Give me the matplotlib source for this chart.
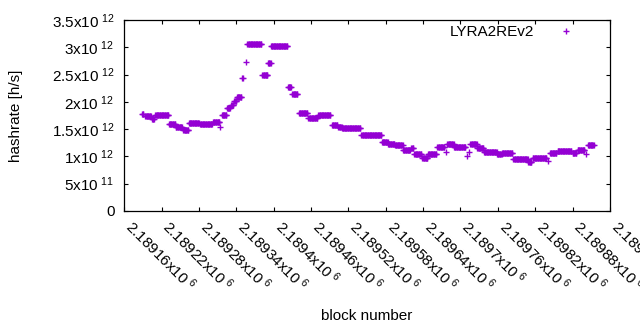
import numpy as np
import matplotlib
matplotlib.use('Agg')
import matplotlib.pyplot as plt
from matplotlib import rcParams

rcParams['font.family'] = ['Liberation Sans', 'DejaVu Sans']
rcParams['font.size'] = 11
rcParams['mathtext.fontset'] = 'custom'
rcParams['mathtext.rm'] = 'Liberation Sans'
rcParams['mathtext.default'] = 'regular'

# hashrate is flat between retargets: first block, last block, rate [1e12 h/s]
seg_first = [2189189, 2189194, 2189205, 2189210, 2189232, 2189243, 2189255, 2189264,
             2189282, 2189303, 2189314, 2189317, 2189325, 2189332, 2189337, 2189341,
             2189350, 2189356, 2189358, 2189382, 2189391, 2189396, 2189423, 2189430,
             2189441, 2189456, 2189472, 2189494, 2189504, 2189510, 2189541, 2189574,
             2189584, 2189595, 2189608, 2189621, 2189626, 2189639, 2189648, 2189663,
             2189677, 2189679, 2189690, 2189711, 2189714, 2189716, 2189727, 2189738,
             2189759, 2189767, 2189785, 2189809, 2189816, 2189840, 2189844, 2189856,
             2189880, 2189888, 2189901, 2189905]
seg_last = [2189191, 2189203, 2189208, 2189231, 2189242, 2189253, 2189263, 2189280,
            2189301, 2189313, 2189314, 2189324, 2189330, 2189335, 2189340, 2189348,
            2189351, 2189356, 2189380, 2189390, 2189395, 2189422, 2189428, 2189438,
            2189454, 2189470, 2189491, 2189502, 2189509, 2189539, 2189573, 2189583,
            2189594, 2189607, 2189619, 2189624, 2189637, 2189647, 2189661, 2189674,
            2189677, 2189689, 2189708, 2189711, 2189714, 2189726, 2189737, 2189758,
            2189766, 2189783, 2189808, 2189814, 2189838, 2189840, 2189854, 2189878,
            2189886, 2189899, 2189901, 2189914]
seg_rate = [1.778, 1.732, 1.686, 1.768, 1.585, 1.539, 1.484, 1.613,
            1.585, 1.631, 1.539, 1.768, 1.887, 1.942, 2.016, 2.098,
            2.437, 2.730, 3.069, 2.501, 2.712, 3.033, 2.281, 2.144,
            1.805, 1.713, 1.759, 1.576, 1.539, 1.515, 1.387, 1.264,
            1.228, 1.200, 1.109, 1.145, 1.045, 0.971, 1.045, 1.178,
            1.081, 1.219, 1.173, 1.008, 1.072, 1.228, 1.149, 1.081,
            1.045, 1.057, 0.947, 0.898, 0.966, 0.916, 1.063, 1.105,
            1.063, 1.109, 1.045, 1.200]

xticks = np.arange(2189160, 2189941, 60)
yticks = [0, 0.5e12, 1e12, 1.5e12, 2e12, 2.5e12, 3e12, 3.5e12]
ytick_labels = ['0', '5x10$^{\\ 11}$', '1x10$^{\\ 12}$', '1.5x10$^{\\ 12}$', '2x10$^{\\ 12}$',
                '2.5x10$^{\\ 12}$', '3x10$^{\\ 12}$', '3.5x10$^{\\ 12}$']

blocks = []
rates = []
for a, b, r in zip(seg_first, seg_last, seg_rate):
    n = b - a + 1
    blocks.extend(range(a, b + 1))
    rates.extend([r * 1e12] * n)

fig = plt.figure(figsize=(6.4, 3.3), dpi=100)
ax = fig.add_axes([0.194, 0.361, 0.759, 0.578])

ax.plot(blocks, rates, linestyle='none', marker='+', markersize=5, markeredgewidth=1,
        color='#9400D3', label='LYRA2REv2')

ax.set_xlim(2189160, 2189940)
ax.set_ylim(0, 3.5e12)
ax.set_xticks(xticks)
ax.set_xticklabels(['%gx10$^{\\ 6}$' % (t / 1e6) for t in xticks],
                   rotation=-45, ha='left', va='baseline', rotation_mode='anchor')
ax.set_yticks(yticks)
ax.set_yticklabels(ytick_labels)
ax.tick_params(direction='in', length=3, width=0.8, top=True, right=True)
ax.tick_params(axis='y', pad=7)
ax.tick_params(axis='x', pad=12)
for s in ax.spines.values():
    s.set_linewidth(0.9)

ax.set_xlabel('block number')
ax.xaxis.set_label_coords(0.5, -0.513)
ax.set_ylabel('hashrate [h/s]')
ax.yaxis.set_label_coords(-0.208, 0.5)
ax.legend(loc='upper right', markerfirst=False, frameon=False, handlelength=2.5,
          borderaxespad=0.3, bbox_to_anchor=(0.97, 1.03))

fig.savefig('out.png', dpi=100)
